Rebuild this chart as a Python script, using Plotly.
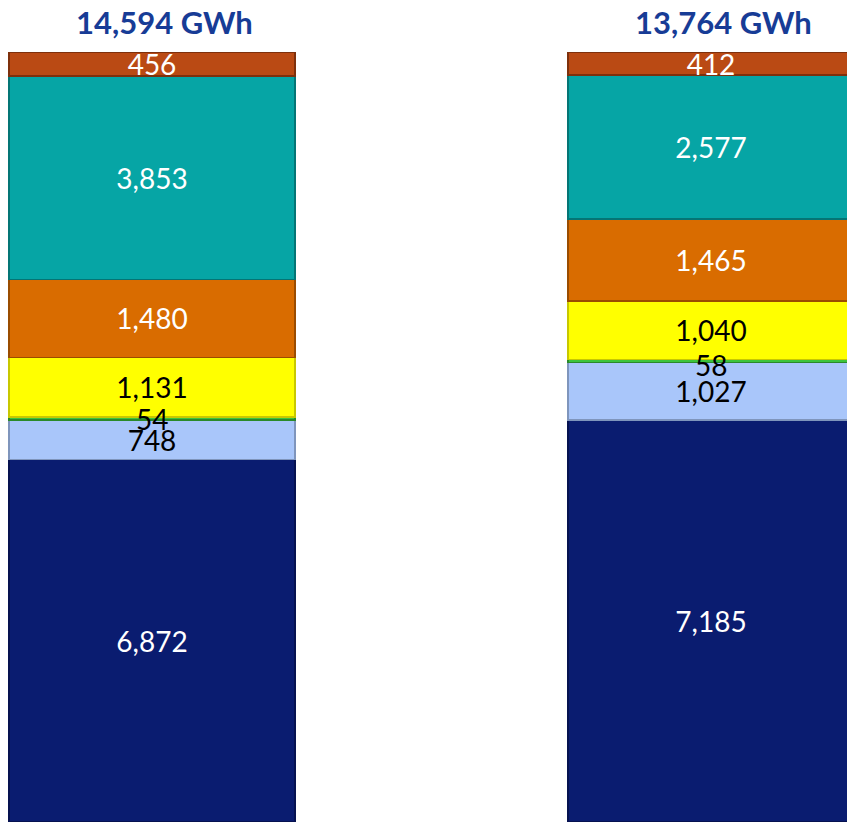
import plotly.graph_objects as go

# Data
bars = ["14,594 GWh", "13,764 GWh"]
x_pos = [0, 1]
series_names = ["S1", "S2", "S3", "S4", "S5", "S6", "S7"]
navy_vals = [6872, 7185]
lightblue_vals = [748, 1027]
green_vals = [54, 58]
yellow_vals = [1131, 1040]
orange_vals = [1480, 1465]
teal_vals = [3853, 2577]
red_vals = [456, 412]

series = [
    (navy_vals, "#0A1C70", "#061250", "white"),
    (lightblue_vals, "#A9C6FA", "#7F95BC", "black"),
    (green_vals, "#3CC43C", "#2A8A2A", "black"),
    (yellow_vals, "#FFFF00", "#C8C800", "black"),
    (orange_vals, "#D96C00", "#9A4C00", "white"),
    (teal_vals, "#06A5A5", "#047575", "white"),
    (red_vals, "#BA4A14", "#7E300C", "white"),
]

totals = [sum(s[0][i] for s in series) for i in range(len(x_pos))]

fig = go.Figure()
for name, (vals, col, lcol, tcol) in zip(series_names, series):
    is_thin = vals is green_vals
    fig.add_trace(go.Bar(
        x=x_pos, y=vals, name=name,
        width=0.512,
        marker=dict(color=col, line=dict(color=lcol, width=1.5)),
        text=None if is_thin else [f"{v:,}" for v in vals],
        textposition="inside",
        insidetextanchor="middle",
        textangle=0,
        constraintext="none",
        textfont=dict(family="Lato", size=28, color=tcol),
        showlegend=False,
        hoverinfo="skip",
    ))

# labels for the thin green segment drawn on top of neighbours
for i, xp in enumerate(x_pos):
    base = navy_vals[i] + lightblue_vals[i]
    mid = (base + green_vals[i] / 2) / totals[i] * 100
    fig.add_annotation(
        x=xp, y=mid, xref="x", yref="y",
        text=f"{green_vals[i]:,}", showarrow=False,
        yshift=-4 if i == 1 else 0,
        font=dict(family="Lato", size=28, color="black"),
    )

for xp, t in zip(x_pos, bars):
    fig.add_annotation(
        x=xp, xref="x", y=1.039, yref="paper",
        text=f"<b>{t}</b>", showarrow=False,
        xshift=13, yanchor="middle",
        font=dict(family="Lato", size=31, color="#173C96"),
    )

fig.update_layout(
    barmode="stack",
    barnorm="percent",
    width=847, height=822,
    margin=dict(l=0, r=0, t=52, b=0),
    paper_bgcolor="white", plot_bgcolor="white",
    xaxis=dict(range=[-0.2719, 1.2433], visible=False),
    yaxis=dict(range=[0, 100], visible=False),
)

fig.write_html("out.html")
